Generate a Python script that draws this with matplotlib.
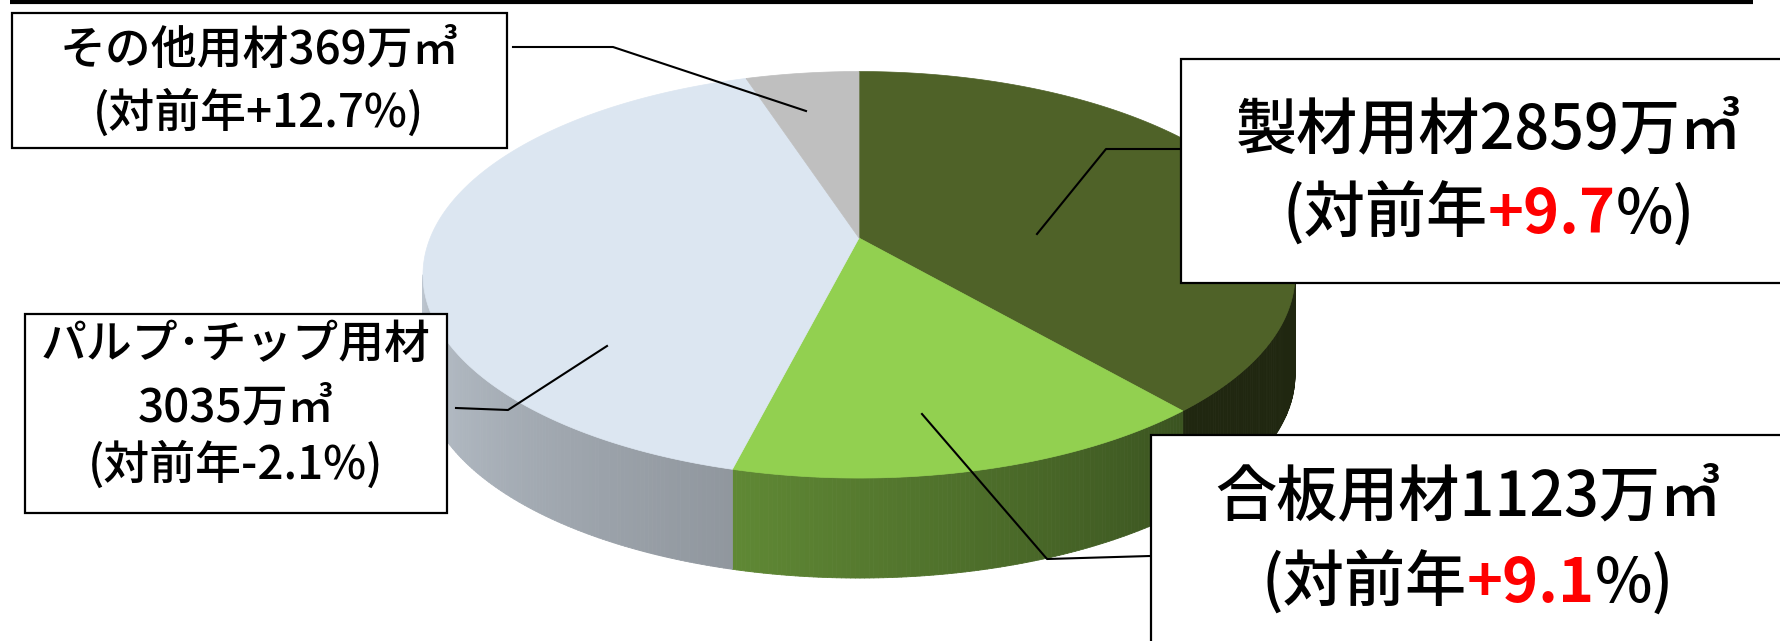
import numpy as np
import matplotlib
matplotlib.use("Agg")
import matplotlib.pyplot as plt
from matplotlib.patches import Rectangle
from matplotlib.collections import PolyCollection
from matplotlib.offsetbox import TextArea, HPacker, AnnotationBbox

plt.rcParams['font.family'] = ['Noto Sans CJK JP', 'DejaVu Sans']

# data
categories = ['製材用材', '合板用材', 'パルプ･チップ用材', 'その他用材']
volumes = [2859, 1123, 3035, 369]          # 万㎥
changes = [9.7, 9.1, -2.1, 12.7]           # 対前年 %
colors = ['#4F6228', '#92D050', '#DCE6F1', '#BFBFBF']

W, H = 1781, 641
fig = plt.figure(figsize=(W / 100, H / 100), dpi=100)
ax = fig.add_axes([0, 0, 1, 1])
ax.set_xlim(0, W)
ax.set_ylim(H, 0)
ax.axis('off')

# 3D pie geometry (pixel space, perspective tilt)
cx, cy = 859, 238
A, B, k = 428.8, 196.6, 0.181
depth = 100


def proj(theta, drop=0.0):
    t = np.radians(theta)
    u, v = np.sin(t), -np.cos(t)
    w = 1 - k * v
    return cx + A * u / w, cy + B * v / w + drop


def shade(theta):
    return np.interp(theta, [100, 139, 194, 260], [0.40, 0.40, 0.655, 0.86])


angles = np.concatenate([[0], np.cumsum(volumes) / sum(volumes) * 360])
vis_lo = np.degrees(np.arccos(-k))
vis_hi = 360 - vis_lo

# side walls
polys, fcs = [], []
for i in range(len(volumes)):
    a0, a1 = max(angles[i], vis_lo), min(angles[i + 1], vis_hi)
    if a1 <= a0:
        continue
    ts = np.linspace(a0, a1, max(int((a1 - a0) * 2), 2))
    base = np.array(matplotlib.colors.to_rgb(colors[i]))
    for t0, t1 in zip(ts[:-1], ts[1:]):
        x0, y0 = proj(t0)
        x1, y1 = proj(t1)
        polys.append([(x0, y0), (x1, y1), (x1, y1 + depth), (x0, y0 + depth)])
        fcs.append(np.clip(base * shade((t0 + t1) / 2), 0, 1))
ax.add_collection(PolyCollection(polys, facecolors=fcs, edgecolors=fcs,
                                 linewidths=0.6, zorder=1))

# top face
for i in range(len(volumes)):
    ts = np.linspace(angles[i], angles[i + 1], 200)
    xs, ys = proj(ts)
    ax.fill(np.r_[cx, xs], np.r_[cy, ys], color=colors[i], lw=0.5,
            ec=colors[i], zorder=2)

# top rule
ax.plot([10, 1753], [1.5, 1.5], color='black', lw=3, solid_capstyle='butt',
        zorder=5)

# label boxes
boxes = [(1181, 59, 640, 224), (1151, 435, 660, 240),
         (25, 314, 422, 199), (12, 13, 495, 135)]
for (x, y, w, h) in boxes:
    ax.add_patch(Rectangle((x, y), w, h, fc='white', ec='black', lw=1.6,
                           zorder=4))

# leader lines
leaders = [[(1181, 149), (1106, 149), (1037, 234)],
           [(1150, 556), (1047, 559), (922, 414)],
           [(456, 408), (508, 410), (607, 346)],
           [(513, 47), (613, 47), (806, 111)]]
for pts in leaders:
    px, py = zip(*pts)
    ax.plot(px, py, color='black', lw=1.5, zorder=3)

fw = 'medium'

# big labels (製材, 合板)
big = {0: (1489, 131, 215), 1: (1468, 498, 584)}
for i, (tx, y1, y2) in big.items():
    ax.text(tx, y1, f'{categories[i]}{volumes[i]}万㎥', fontsize=44,
            fontweight=fw, ha='center', va='center', zorder=6)
    parts = [TextArea('(対前年', textprops=dict(fontsize=44, color='black',
                                                fontweight=fw)),
             TextArea(f'{changes[i]:+.1f}', textprops=dict(fontsize=44, color='#FF0000',
                                                           fontweight='bold')),
             TextArea('%)', textprops=dict(fontsize=44, color='black',
                                           fontweight=fw))]
    row = HPacker(children=parts, align='baseline', pad=0, sep=0)
    ab = AnnotationBbox(row, (tx, y2), xycoords='data', frameon=False,
                        box_alignment=(0.5, 0.5), zorder=6)
    ax.add_artist(ab)

# small labels
fs = 33
ax.text(236, 344, categories[2], fontsize=fs, fontweight=fw, ha='center',
        va='center', zorder=6)
ax.text(236, 408, f'{volumes[2]}万㎥', fontsize=fs, fontweight=fw,
        ha='center', va='center', zorder=6)
ax.text(236, 465, f'(対前年{changes[2]:+.1f}%)', fontsize=fs, fontweight=fw,
        ha='center', va='center', zorder=6)
ax.text(259, 50, f'{categories[3]}{volumes[3]}万㎥', fontsize=fs,
        fontweight=fw, ha='center', va='center', zorder=6)
ax.text(259, 113, f'(対前年{changes[3]:+.1f}%)', fontsize=fs, fontweight=fw,
        ha='center', va='center', zorder=6)

fig.savefig('out.png', dpi=100)
